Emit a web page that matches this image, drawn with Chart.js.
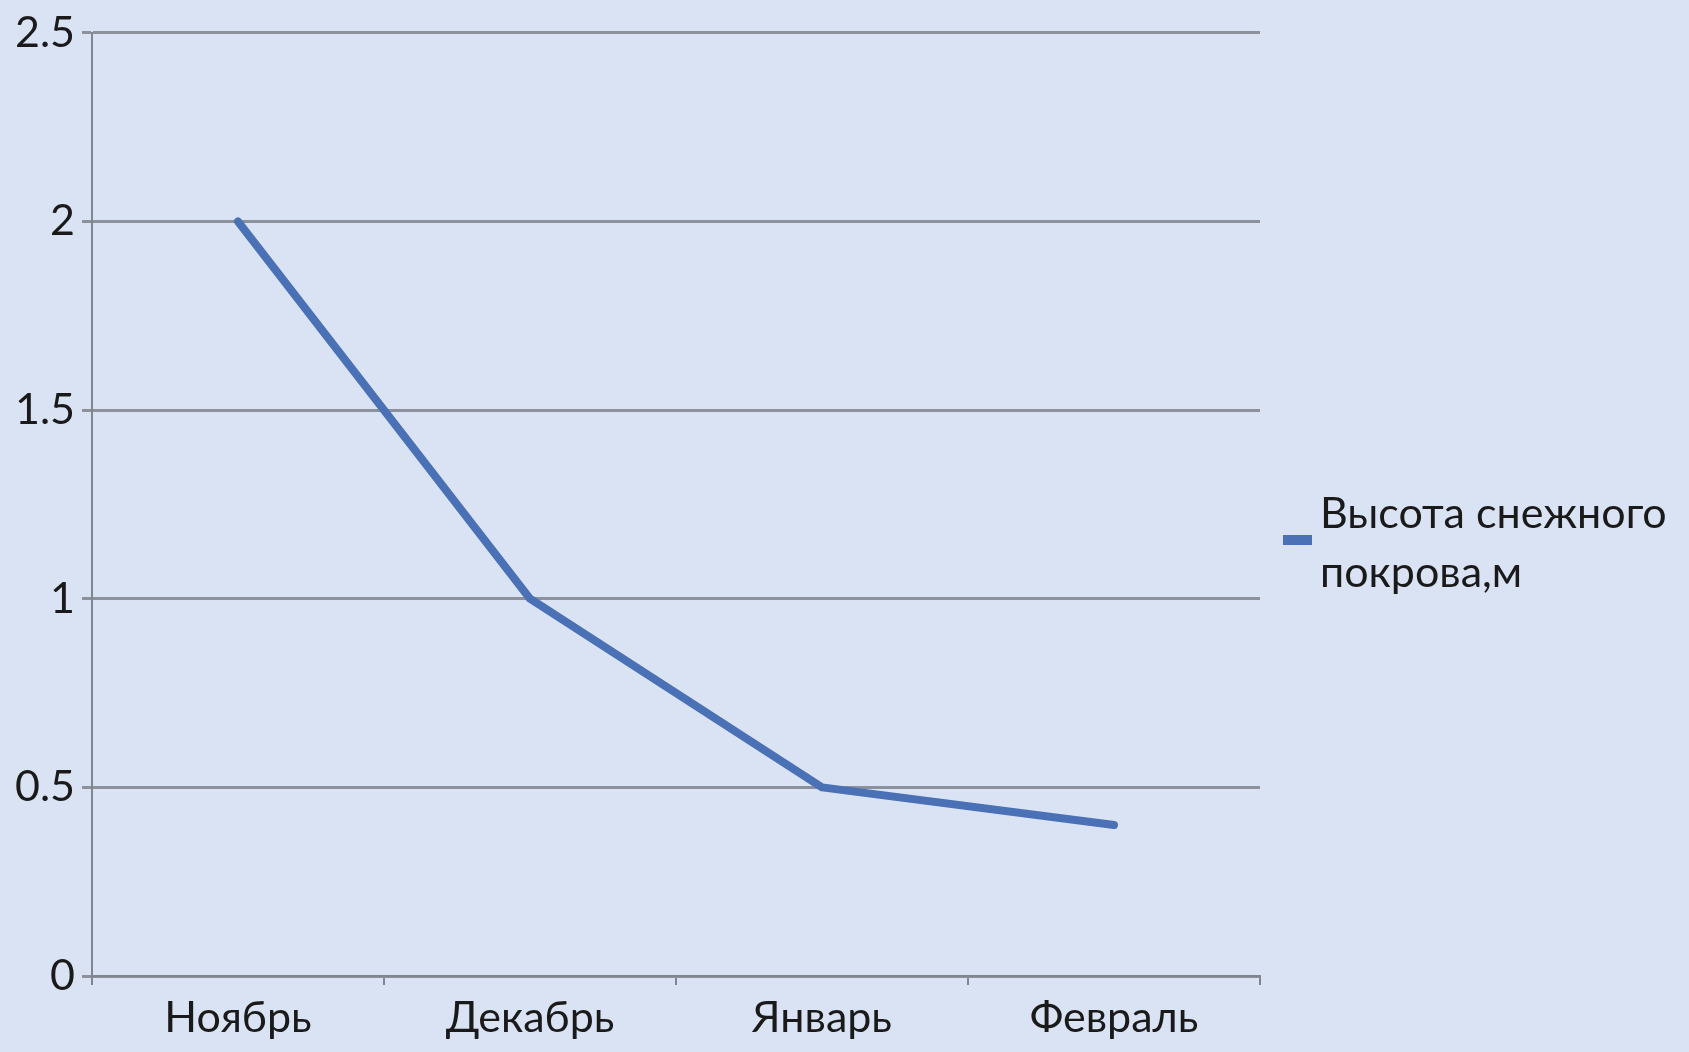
<!DOCTYPE html>
<html>
<head>
<meta charset="utf-8">
<script src="https://cdn.jsdelivr.net/npm/chart.js@4.4.0/dist/chart.umd.min.js"></script>
<style>
html,body{margin:0;padding:0;background:#dae3f3;}
#wrap{width:1689px;height:1052px;position:relative;}
</style>
</head>
<body>
<div id="wrap"><canvas id="c" width="1689" height="1052"></canvas></div>
<script>
const categories = ["Ноябрь", "Декабрь", "Январь", "Февраль"];
const seriesLabel = "Высота снежного покрова,м";
const snowHeight = [2, 1, 0.5, 0.4];
const yTicks = [0, 0.5, 1, 1.5, 2, 2.5];

const FONT = "Lato, 'Open Sans', sans-serif";
const LINE_COLOR = "#4a70b5";

const legendPlugin = {
  id: 'customLegend',
  afterDraw(chart) {
    const ctx = chart.ctx;
    const ds = chart.data.datasets[0];
    const words = ds.label.split(' ');
    const lines = [words.slice(0, 2).join(' '), words.slice(2).join(' ')];
    ctx.save();
    ctx.fillStyle = ds.borderColor;
    ctx.fillRect(1283, 535, 29, 10);
    ctx.fillStyle = '#1a1a1a';
    ctx.font = "43px " + FONT;
    ctx.textBaseline = 'alphabetic';
    ctx.textAlign = 'left';
    ctx.fillText(lines[0], 1320, 528);
    ctx.fillText(lines[1], 1320, 587);
    ctx.restore();
  }
};

new Chart(document.getElementById('c'), {
  type: 'line',
  data: {
    labels: categories,
    datasets: [{
      label: seriesLabel,
      data: snowHeight,
      borderColor: LINE_COLOR,
      backgroundColor: LINE_COLOR,
      borderWidth: 8,
      borderCapStyle: 'round',
      borderJoinStyle: 'round',
      tension: 0,
      pointRadius: 0,
      fill: false
    }]
  },
  options: {
    responsive: false,
    animation: false,
    devicePixelRatio: 1,
    layout: { padding: { left: 0, right: 429, top: 32, bottom: 0 } },
    plugins: { legend: { display: false }, tooltip: { enabled: false } },
    scales: {
      x: {
        offset: true,
        grid: { offset: true, drawOnChartArea: false, drawTicks: true, tickLength: 9, color: '#80858f', lineWidth: 2 },
        border: { display: true, color: '#80858f', width: 2 },
        ticks: { color: '#1a1a1a', font: { family: FONT, size: 43 }, padding: 7, maxRotation: 0 },
        afterFit(scale) { scale.height = 76; }
      },
      y: {
        min: 0, max: 2.5,
        afterBuildTicks(scale) { scale.ticks = yTicks.map(v => ({ value: v })); },
        grid: { color: '#8c919b', lineWidth: 3, tickLength: 10, drawTicks: true },
        border: { display: true, color: '#80858f', width: 2 },
        ticks: { color: '#1a1a1a', font: { family: FONT, size: 43 }, padding: 7, callback: v => String(v) },
        afterFit(scale) { scale.width = 92; }
      }
    }
  },
  plugins: [legendPlugin]
});
</script>
</body>
</html>
